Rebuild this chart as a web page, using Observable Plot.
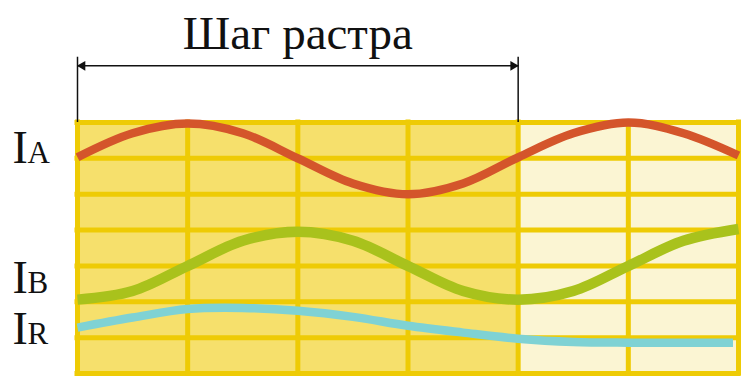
<!DOCTYPE html>
<html><head><meta charset="utf-8">
<script src="https://cdn.jsdelivr.net/npm/d3@7"></script>
<script src="https://cdn.jsdelivr.net/npm/@observablehq/plot@0.6"></script>
<style>body{margin:0;background:#fff}</style>
</head><body><div id="chart"></div>
<script>
// Data (x in grid columns, y in grid rows from top)
const xs = [0, 0.5, 1, 1.5, 2, 2.5, 3, 3.5, 4, 4.5, 5, 5.5, 6];
const iA = [0.97, 0.3, 0.03, 0.3, 1.0, 1.7, 2.0, 1.7, 0.97, 0.3, 0.0, 0.3, 0.92];
const iB = [4.94, 4.7, 4.0, 3.3, 3.05, 3.3, 4.0, 4.7, 4.94, 4.7, 4.0, 3.3, 2.97];
const xsR = [0, 0.5, 1, 1.5, 2, 2.5, 3, 3.5, 4, 4.5, 5, 5.5, 5.95];
const iR = [5.72, 5.44, 5.2, 5.17, 5.25, 5.42, 5.67, 5.86, 6.03, 6.12, 6.14, 6.14, 6.14];
const rowLines = [0, 1, 2, 3, 4, 5, 6, 7];
const colLines = [0, 1, 2, 3, 4, 5, 6];
const rasterStep = [0, 4];
const title = "Шаг растра";
const seriesNames = ["A", "B", "R"];

const labelRows = {A: 1.14, B: 4.75, R: 6.19};
const toPts = (X, Y) => X.map((x, i) => ({x, y: Y[i]}));
const gold = "#eecb05";
const serif = "Liberation Serif, Times New Roman, serif";
const arrowY = -1.58;

const plot = Plot.plot({
  width: 750, height: 384,
  marginLeft: 77, marginRight: 12, marginTop: 122, marginBottom: 11,
  x: {domain: [0, 6], axis: null},
  y: {domain: [0, 7], reverse: true, axis: null},
  style: {background: "#fff", overflow: "visible"},
  marks: [
    Plot.rect([0], {x1: () => 0, x2: () => 4, y1: () => 0, y2: () => 7, fill: "#f6e06c"}),
    Plot.rect([0], {x1: () => 4, x2: () => 6, y1: () => 0, y2: () => 7, fill: "#fbf5d3"}),
    Plot.ruleY(rowLines, {y: d => d, x1: () => 0, x2: () => 6, stroke: gold, strokeWidth: 5, strokeLinecap: "square"}),
    Plot.ruleX(colLines, {x: d => d, y1: () => 0, y2: () => 7, stroke: gold, strokeWidth: 5, strokeLinecap: "square"}),
    Plot.line(toPts(xs, iA), {x: "x", y: "y", curve: "catmull-rom", stroke: "#d4552b", strokeWidth: 8.5, strokeLinecap: "butt"}),
    Plot.line(toPts(xs, iB), {x: "x", y: "y", curve: "catmull-rom", stroke: "#a9c21c", strokeWidth: 10.5, strokeLinecap: "butt"}),
    Plot.line(toPts(xsR, iR), {x: "x", y: "y", curve: "catmull-rom", stroke: "#7fd2d4", strokeWidth: 8.5, strokeLinecap: "butt"}),
    // dimension line
    Plot.ruleX(rasterStep, {x: d => d, y1: () => -1.82, y2: () => 0, stroke: "#111", strokeWidth: 1.5}),
    Plot.link([rasterStep], {x1: d => d[0], x2: d => d[1], y1: () => arrowY, y2: () => arrowY, stroke: "#111", strokeWidth: 1.5}),
    Plot.dot([rasterStep[0]], {x: d => d, y: () => arrowY, symbol: "triangle", r: 3.6, rotate: -90, fill: "#111", stroke: "none", dx: 5}),
    Plot.dot([rasterStep[1]], {x: d => d, y: () => arrowY, symbol: "triangle", r: 3.6, rotate: 90, fill: "#111", stroke: "none", dx: -5}),
    Plot.text([title], {x: () => (rasterStep[0] + rasterStep[1]) / 2, y: () => -2.05, text: d => d, fontSize: 47, fontFamily: serif, fill: "#111", lineAnchor: "bottom"}),
    // labels
    Plot.text(seriesNames, {x: () => 0, y: d => labelRows[d], text: () => "I", dx: -65, textAnchor: "start", lineAnchor: "bottom", fontSize: 46, fontFamily: serif, fill: "#111"}),
    Plot.text(seriesNames, {x: () => 0, y: d => labelRows[d], text: d => d, dx: -50, textAnchor: "start", lineAnchor: "bottom", fontSize: 31, fontFamily: serif, fill: "#111"})
  ]
});
document.getElementById("chart").appendChild(plot);
</script>
</body></html>
